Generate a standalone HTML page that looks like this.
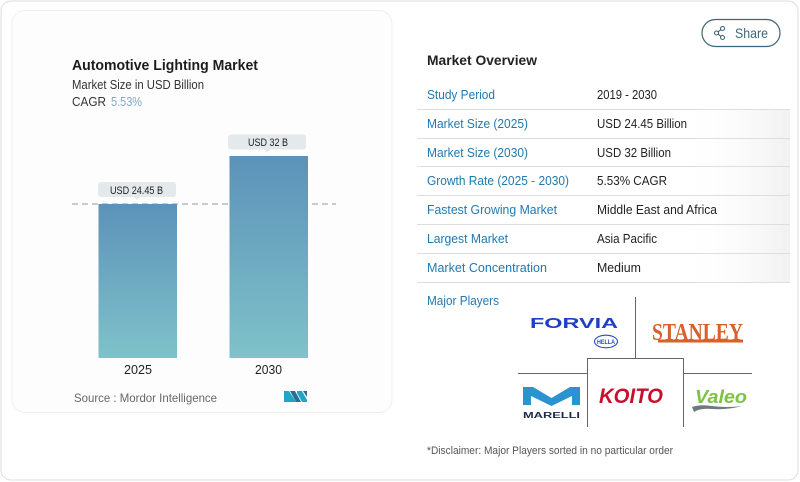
<!DOCTYPE html>
<html>
<head>
<meta charset="utf-8">
<style>
  html,body{margin:0;padding:0;background:#fff;}
  body{width:800px;height:482px;overflow:hidden;}
  svg{display:block;}
  .sans{font-family:"Liberation Sans",sans-serif;}
</style>
</head>
<body>
<svg width="800" height="482" viewBox="0 0 800 482" xmlns="http://www.w3.org/2000/svg" class="sans" font-family="Liberation Sans, sans-serif">
  <defs>
    <linearGradient id="barg" x1="0" y1="0" x2="0" y2="1">
      <stop offset="0" stop-color="#5c92b9"/>
      <stop offset="1" stop-color="#7fc2c9"/>
    </linearGradient>
    <linearGradient id="rowg" x1="0" y1="0" x2="1" y2="0">
      <stop offset="0" stop-color="#ffffff" stop-opacity="0"/>
      <stop offset="0.7" stop-color="#ffffff" stop-opacity="0"/>
      <stop offset="1" stop-color="#f1f1f1" stop-opacity="1"/>
    </linearGradient>
  </defs>

  <!-- outer card -->
  <rect x="1" y="1" width="797" height="479" rx="10" ry="10" fill="#ffffff" stroke="#dcdcdc" stroke-width="1"/>

  <!-- inner chart card -->
  <rect x="12" y="10.5" width="380" height="402" rx="13" ry="13" fill="#fdfdfd" stroke="#efefef" stroke-width="1"/>

  <!-- title -->
  <text x="72" y="70" font-size="14.5" font-weight="700" fill="#1c1c1c" textLength="186" lengthAdjust="spacingAndGlyphs">Automotive Lighting Market</text>
  <text x="72" y="89" font-size="12.5" fill="#333" textLength="132" lengthAdjust="spacingAndGlyphs">Market Size in USD Billion</text>
  <text x="72" y="106" font-size="12.5" fill="#333" textLength="34" lengthAdjust="spacingAndGlyphs">CAGR</text>
  <text x="111" y="106" font-size="12.5" fill="#7fa8c8" textLength="31" lengthAdjust="spacingAndGlyphs">5.53%</text>

  <!-- dashed line -->
  <line x1="72" y1="204" x2="336" y2="204" stroke="#a3afb6" stroke-width="1.2" stroke-dasharray="6 4"/>

  <!-- bars -->
  <rect x="98.5" y="204" width="78.5" height="154" fill="url(#barg)"/>
  <rect x="229.5" y="156" width="78.5" height="202" fill="url(#barg)"/>

  <!-- value labels -->
  <rect x="98" y="182" width="78" height="15" rx="3" fill="#e4e9ec"/>
  <polygon points="134,197 140,197 137,200" fill="#e4e9ec"/>
  <text x="110" y="194" font-size="11" fill="#222" textLength="53" lengthAdjust="spacingAndGlyphs">USD 24.45 B</text>

  <rect x="228" y="134.5" width="78" height="15" rx="3" fill="#e4e9ec"/>
  <polygon points="264,149.5 270,149.5 267,152.5" fill="#e4e9ec"/>
  <text x="248" y="146" font-size="11" fill="#222" textLength="40" lengthAdjust="spacingAndGlyphs">USD 32 B</text>

  <!-- years -->
  <text x="124" y="374" font-size="12.5" fill="#222" textLength="28" lengthAdjust="spacingAndGlyphs">2025</text>
  <text x="255" y="374" font-size="12.5" fill="#222" textLength="27" lengthAdjust="spacingAndGlyphs">2030</text>

  <!-- source -->
  <text x="74" y="402" font-size="12" fill="#666" textLength="143" lengthAdjust="spacingAndGlyphs">Source :  Mordor Intelligence</text>
  <!-- MN logo -->
  <polygon points="284,402 284,391 289,391 296,402" fill="#1fa6c6"/>
  <polygon points="290,391 295,391 301,402 296,402" fill="#2a6d99"/>
  <polygon points="297,391 302,391 307,400 307,402 302,402 297,393" fill="#1fa6c6"/>
  <polygon points="303,391 307,391 307,397" fill="#2a6d99"/>

  <!-- share button -->
  <rect x="702" y="19.5" width="78" height="27" rx="13.5" ry="13.5" fill="#fff" stroke="#3e6579" stroke-width="1.2"/>
  <g stroke="#3e6579" stroke-width="1.1" fill="none">
    <circle cx="722.5" cy="28.5" r="2"/>
    <circle cx="716.5" cy="33" r="2"/>
    <circle cx="722.5" cy="37.5" r="2"/>
    <line x1="720.8" y1="29.7" x2="718.2" y2="31.8"/>
    <line x1="718.2" y1="34.2" x2="720.8" y2="36.3"/>
  </g>
  <text x="735" y="38" font-size="14" fill="#3e6579" textLength="33" lengthAdjust="spacingAndGlyphs">Share</text>

  <!-- Market overview -->
  <text x="427" y="65" font-size="13.5" font-weight="700" fill="#222" textLength="110" lengthAdjust="spacingAndGlyphs">Market Overview</text>

  <!-- row shading -->
  <rect x="417" y="110" width="373" height="28" fill="url(#rowg)"/>
  <rect x="417" y="139" width="373" height="28" fill="url(#rowg)"/>
  <rect x="417" y="167" width="373" height="28" fill="url(#rowg)"/>
  <rect x="417" y="196" width="373" height="28" fill="url(#rowg)"/>
  <rect x="417" y="225" width="373" height="28" fill="url(#rowg)"/>
  <rect x="417" y="254" width="373" height="28" fill="url(#rowg)"/>

  <g stroke="#dedede" stroke-width="1">
    <line x1="417" y1="109.5" x2="790" y2="109.5"/>
    <line x1="417" y1="138.5" x2="790" y2="138.5"/>
    <line x1="417" y1="166.5" x2="790" y2="166.5"/>
    <line x1="417" y1="195.5" x2="790" y2="195.5"/>
    <line x1="417" y1="224.5" x2="790" y2="224.5"/>
    <line x1="417" y1="253.5" x2="790" y2="253.5"/>
    <line x1="417" y1="282.5" x2="790" y2="282.5"/>
  </g>

  <g font-size="12.5" fill="#2279b0">
    <text x="427" y="99" textLength="68" lengthAdjust="spacingAndGlyphs">Study Period</text>
    <text x="427" y="128" textLength="101" lengthAdjust="spacingAndGlyphs">Market Size (2025)</text>
    <text x="427" y="157" textLength="101" lengthAdjust="spacingAndGlyphs">Market Size (2030)</text>
    <text x="427" y="185" textLength="142" lengthAdjust="spacingAndGlyphs">Growth Rate (2025 - 2030)</text>
    <text x="427" y="214" textLength="130" lengthAdjust="spacingAndGlyphs">Fastest Growing Market</text>
    <text x="427" y="243" textLength="81" lengthAdjust="spacingAndGlyphs">Largest Market</text>
    <text x="427" y="272" textLength="120" lengthAdjust="spacingAndGlyphs">Market Concentration</text>
    <text x="427" y="305" textLength="72" lengthAdjust="spacingAndGlyphs">Major Players</text>
  </g>
  <g font-size="12.5" fill="#222">
    <text x="597" y="99" textLength="60" lengthAdjust="spacingAndGlyphs">2019 - 2030</text>
    <text x="597" y="128" textLength="90" lengthAdjust="spacingAndGlyphs">USD 24.45 Billion</text>
    <text x="597" y="157" textLength="74" lengthAdjust="spacingAndGlyphs">USD 32 Billion</text>
    <text x="597" y="185" textLength="70" lengthAdjust="spacingAndGlyphs">5.53% CAGR</text>
    <text x="597" y="214" textLength="120" lengthAdjust="spacingAndGlyphs">Middle East and Africa</text>
    <text x="597" y="243" textLength="60" lengthAdjust="spacingAndGlyphs">Asia Pacific</text>
    <text x="597" y="272" textLength="44" lengthAdjust="spacingAndGlyphs">Medium</text>
  </g>

  <!-- logo grid lines -->
  <g stroke="#666" stroke-width="1" fill="none">
    <line x1="635.5" y1="297" x2="635.5" y2="358"/>
    <polyline points="587.5,427 587.5,358.5 683.5,358.5 683.5,427"/>
    <line x1="518" y1="373.5" x2="587.5" y2="373.5"/>
    <line x1="683.5" y1="373.5" x2="752" y2="373.5"/>
  </g>

  <!-- FORVIA -->
  <text x="530" y="328" font-size="15" font-weight="700" fill="#1f3fc4" textLength="88" lengthAdjust="spacingAndGlyphs">FORVIA</text>
  <ellipse cx="606" cy="341.5" rx="11.5" ry="6.3" fill="#fff" stroke="#2448c4" stroke-width="1.1"/>
  <text x="597" y="344" font-size="6.5" font-weight="700" fill="#2448c4" textLength="18" lengthAdjust="spacingAndGlyphs">HELLA</text>

  <!-- STANLEY -->
  <text x="652" y="340" style="font-family:'Liberation Serif',serif;" font-size="24" font-weight="700" fill="#d8602a" textLength="91" lengthAdjust="spacingAndGlyphs">STANLEY</text>
  <rect x="658" y="339.5" width="85" height="3" fill="#d8602a"/>

  <!-- MARELLI -->
  <polygon points="523,387 533,387 551.5,398 570,387 580,387 580,405 572,405 572,396 551.5,406 531,396 531,405 523,405" fill="#2b93d0"/>
  <text x="523" y="418" font-size="8" font-weight="700" fill="#1d2a4a" textLength="57" lengthAdjust="spacingAndGlyphs">MARELLI</text>

  <!-- KOITO -->
  <text x="599" y="403" font-size="21" font-weight="700" font-style="italic" fill="#c8102e" textLength="64" lengthAdjust="spacingAndGlyphs">KOITO</text>

  <!-- Valeo -->
  <text x="695" y="403" font-size="18" font-weight="700" font-style="italic" fill="#7dc242" textLength="52" lengthAdjust="spacingAndGlyphs">Valeo</text>
  <path d="M692,407 Q700,404 712,406 Q728,408 742,406 Q728,410 712,409 Q700,408 694,412 Z" fill="#6f7a80"/>

  <!-- disclaimer -->
  <text x="427" y="454" font-size="11" fill="#555" textLength="246" lengthAdjust="spacingAndGlyphs">*Disclaimer: Major Players sorted in no particular order</text>
</svg>
</body>
</html>
